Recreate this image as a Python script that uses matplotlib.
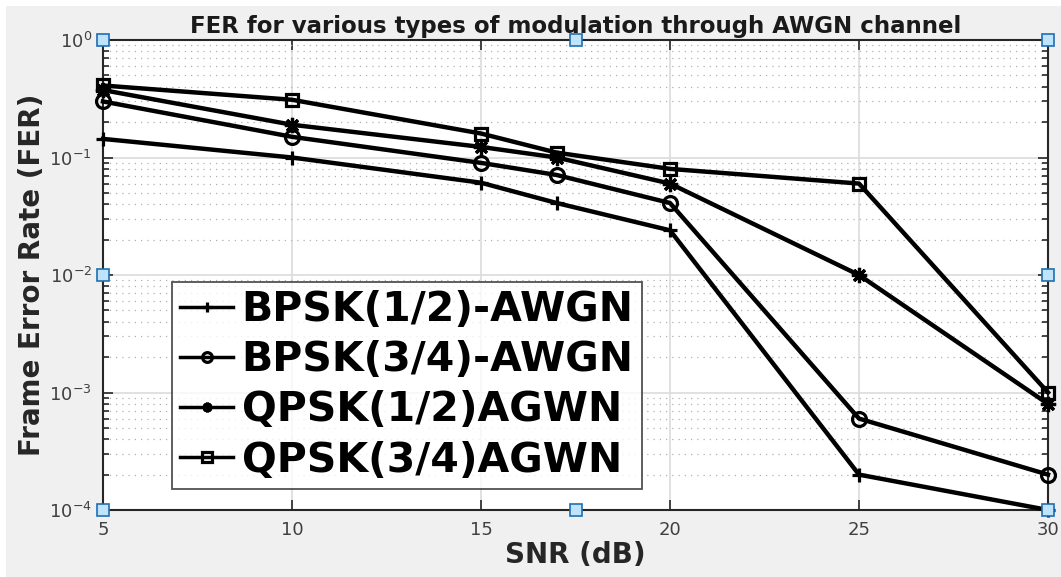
import matplotlib
matplotlib.use("Agg")
import matplotlib.pyplot as plt
from matplotlib.patches import Rectangle
from matplotlib.ticker import LogLocator, NullFormatter

snr = [5, 10, 15, 17, 20, 25, 30]
bpsk_12 = [0.144, 0.10, 0.061, 0.041, 0.024, 2.0e-4, 1.0e-4]
bpsk_34 = [0.30, 0.15, 0.090, 0.071, 0.041, 6.0e-4, 2.0e-4]
qpsk_12 = [0.375, 0.19, 0.123, 0.10, 0.060, 0.010, 8.0e-4]
qpsk_34 = [0.41, 0.31, 0.160, 0.11, 0.080, 0.060, 1.0e-3]
labels = ["BPSK(1/2)-AWGN", "BPSK(3/4)-AWGN", "QPSK(1/2)AGWN", "QPSK(3/4)AGWN"]
xticks = [5, 10, 15, 20, 25, 30]
title = "FER for various types of modulation through AWGN channel"

plt.rcParams['font.family'] = ['DejaVu Sans']
plt.rcParams['mathtext.fontset'] = 'dejavusans'

fig = plt.figure(figsize=(10.61, 5.77), dpi=100, facecolor='white')
fig.patches.append(Rectangle((6/1061, 0), 1, 1 - 6/577, transform=fig.transFigure,
                             facecolor='#f0f0f0', edgecolor='none', zorder=-10))
ax = fig.add_axes([103/1061, 67/577, 945/1061, 470/577])
ax.set_facecolor('white')

markers = ['+', 'o', (8, 2, 0), 's']
msizes = [10, 10, 11, 8]
for y, lab, m, ms in zip([bpsk_12, bpsk_34, qpsk_12, qpsk_34], labels, markers, msizes):
    ax.plot(snr, y, color='black', lw=3.2, marker=m, markersize=ms,
            markerfacecolor='none', markeredgecolor='black', markeredgewidth=2.3,
            label=lab, clip_on=False, zorder=3)

ax.set_yscale('log')
ax.set_xlim(5, 30)
ax.set_ylim(1e-4, 1)
ax.set_xticks(xticks)
ax.set_xticklabels([str(v) for v in xticks])
ax.yaxis.set_major_locator(LogLocator(base=10, numticks=10))
ax.yaxis.set_minor_locator(LogLocator(base=10, subs=range(2, 10), numticks=20))
ax.yaxis.set_minor_formatter(NullFormatter())

ax.grid(True, which='major', color='#dcdcdc', lw=1.2, ls='-')
ax.grid(True, which='minor', axis='y', color='#b0b0b0', lw=0.9, ls=(0, (1, 4)))
ax.set_axisbelow(True)

ax.tick_params(which='both', direction='in', top=True, right=True, colors='#262626',
               labelcolor='#404040', labelsize=13, width=1.2)
ax.tick_params(which='major', length=7, pad=8)
ax.tick_params(which='minor', length=4)
for s in ax.spines.values():
    s.set_color('#262626')
    s.set_linewidth(1.5)

ax.set_title(title, fontsize=16.5, fontweight='bold', color='#1a1a1a', pad=5)
ax.set_xlabel('SNR (dB)', fontsize=20, fontweight='bold', color='#262626', labelpad=1)
ax.set_ylabel('Frame Error Rate (FER)', fontsize=20, fontweight='bold', color='#262626', labelpad=2)

leg = ax.legend(loc='lower left', bbox_to_anchor=(0.073, 0.045),
                prop={'weight': 'bold', 'size': 29.5}, frameon=True, fancybox=False,
                handlelength=1.3, handletextpad=0.2, borderpad=0.2, labelspacing=0.25,
                borderaxespad=0)
leg.get_frame().set_edgecolor('#262626')
leg.get_frame().set_linewidth(1.3)
for h in leg.get_lines():
    h.set_markersize(7)
    h.set_linewidth(2.5)

# selection handles (figure edit mode)
hx = [0, 0.5, 1, 0, 1, 0, 0.5, 1]
hy = [1, 1, 1, 0.5, 0.5, 0, 0, 0]
ax.plot(hx, hy, ls='none', marker='s', markersize=8, markerfacecolor='#bfe3fb',
        markeredgecolor='#1f6fb2', markeredgewidth=1.2, transform=ax.transAxes,
        clip_on=False, zorder=10)

fig.savefig('out.png', dpi=100, facecolor=fig.get_facecolor())
